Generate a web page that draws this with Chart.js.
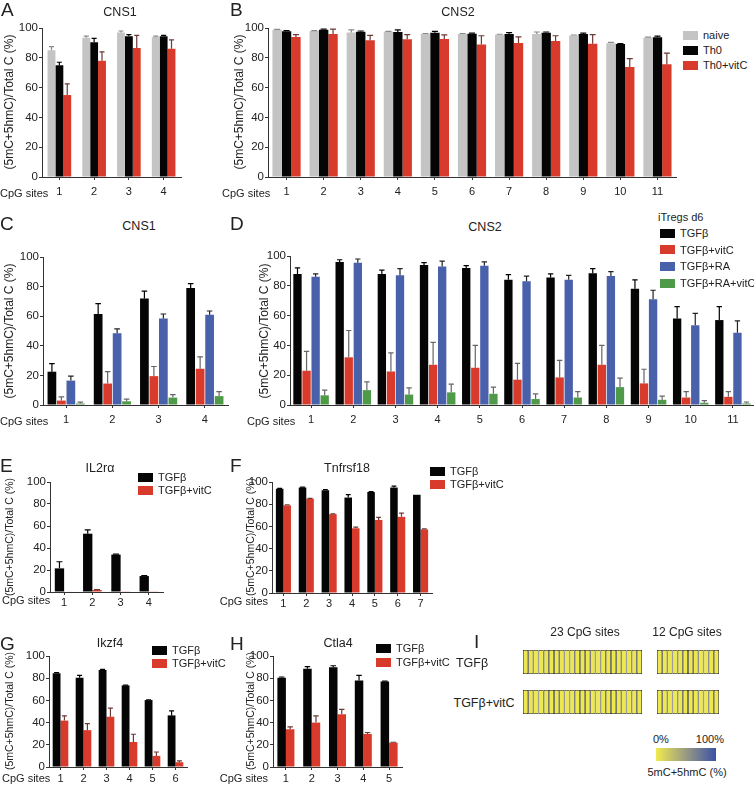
<!DOCTYPE html>
<html>
<head>
<meta charset="utf-8">
<script src="https://cdn.jsdelivr.net/npm/chart.js@4.4.1/dist/chart.umd.min.js"></script>
<style>
  body { margin: 0; background: #fff; }
  #fig { position: relative; width: 754px; height: 785px; overflow: hidden;
         font-family: "Liberation Sans", Arial, sans-serif; color: #222; }
  #fig canvas { position: absolute; }
  .t { position: absolute; white-space: nowrap; line-height: 1; }
  .sw { position: absolute; }
</style>
</head>
<body>
<div id="fig"></div>
<script>
// ---- data ----
const sites4 = ["1", "2", "3", "4"];
const sites5 = ["1", "2", "3", "4", "5"];
const sites6 = ["1", "2", "3", "4", "5", "6"];
const sites7 = ["1", "2", "3", "4", "5", "6", "7"];
const sites11 = ["1", "2", "3", "4", "5", "6", "7", "8", "9", "10", "11"];

// A  CNS1 (naive / Th0 / Th0+vitC)
const aNaive = [85, 93.5, 97, 94];       const aNaiveErr = [2.5, 1, 1, 0.5];
const aTh0 = [75, 90.5, 94.5, 94.5];     const aTh0Err = [2, 2.5, 1, 0.5];
const aVitc = [55, 78, 86.5, 86];        const aVitcErr = [7.5, 6, 8.5, 6];

// B  CNS2
const bNaive = [98.8, 98, 97, 97.5, 96, 96, 95.5, 96, 95, 89.8, 93.4];
const bNaiveErr = [0.3, 0.3, 1.8, 0.3, 0.3, 0.3, 0.3, 1.3, 0.3, 0.5, 0.5];
const bTh0 = [97.8, 98.8, 97.5, 97.3, 96.8, 96.2, 96, 96.8, 96, 89.2, 93.8];
const bTh0Err = [0.5, 0.5, 0.5, 1.5, 0.9, 0.4, 0.9, 0.5, 0.5, 0.3, 0.8];
const bVitc = [94, 96, 91.7, 92.4, 92.7, 89, 90, 91.3, 89.5, 73.8, 75.7];
const bVitcErr = [1.5, 3.2, 3.3, 3.2, 2.7, 5.8, 4, 3.5, 6, 5.6, 7.4];

// C  CNS1 iTregs
const cTgfb = [22.5, 61.5, 72, 79];      const cTgfbErr = [5.5, 7, 5, 3];
const cVitc = [3, 14.5, 19.5, 24.5];     const cVitcErr = [2.5, 8, 6.5, 8];
const cRa = [16.5, 48.5, 58.5, 61];      const cRaErr = [3, 3, 3, 2.5];
const cRaVitc = [1, 2.5, 5, 6];          const cRaVitcErr = [1, 1.5, 2, 3];

// D  CNS2 iTregs
const dTgfb = [88, 96, 88, 94, 92, 84, 85.5, 88.5, 78, 58, 57];
const dTgfbErr = [4, 1.5, 2.5, 1.5, 1.5, 3.5, 2.5, 3, 6, 8, 9];
const dVitc = [23, 32, 22.5, 27, 25, 17, 18.5, 27, 14.5, 5, 5.5];
const dVitcErr = [13, 18, 12.5, 15, 15, 11, 11.5, 13, 9.5, 4, 3.5];
const dRa = [86, 95.5, 87, 93, 93.5, 83, 84, 86.5, 71, 53.5, 48.5];
const dRaErr = [2, 2.5, 4.5, 3.5, 2.5, 3.5, 3, 3, 6, 8, 8];
const dRaVitc = [6.5, 10, 7, 8.5, 7.5, 4, 5, 12, 3.5, 1.5, 1];
const dRaVitcErr = [3.5, 5.5, 4.5, 5.5, 4.5, 3.5, 4, 6, 2.5, 1.5, 1];

// E  IL2ra
const eTgfb = [21.5, 53, 34, 14.5];      const eTgfbErr = [6, 3.5, 0.5, 0.5];
const eVitc = [0.4, 1.8, 0.6, 0.3];      const eVitcErr = [0, 0.3, 0, 0];

// F  Tnfrsf18
const fTgfb = [94, 95, 92.5, 86, 91, 95, 88.5];
const fTgfbErr = [0.3, 0.3, 0.6, 2.7, 0.3, 1.3, 0];
const fVitc = [79, 85, 71, 58.3, 65.8, 68.6, 57.3];
const fVitcErr = [0.5, 0.3, 0.3, 1, 2.3, 3.4, 0.4];

// G  Ikzf4
const gTgfb = [84.5, 80.5, 87.5, 73.5, 60.3, 46.5];
const gTgfbErr = [0.5, 2, 0.5, 0.3, 0.3, 4];
const gVitc = [41.8, 33.2, 45.3, 22.5, 10, 4.3];
const gVitcErr = [4.2, 5.8, 7.7, 7, 3.5, 1.2];

// H  Ctla4
const hTgfb = [80.5, 88.5, 89.8, 78, 77];  const hTgfbErr = [0.6, 2, 1.4, 4.5, 0.3];
const hVitc = [34, 40, 47.5, 29.8, 22];    const hVitcErr = [2.2, 6, 4.5, 1.3, 0.3];

// I  heatmap, 5mC+5hmC (%) per CpG
const iRows = ["TGFβ", "TGFβ+vitC"];
const i23Tgfb = [2, 3, 1, 2, 4, 2, 1, 3, 2, 2, 1, 3, 2, 4, 2, 1, 2, 3, 2, 1, 2, 3, 2];
const i23Vitc = [1, 2, 1, 1, 2, 1, 2, 1, 1, 2, 1, 1, 2, 1, 1, 2, 1, 1, 1, 2, 1, 1, 2];
const i12Tgfb = [2, 1, 3, 2, 2, 1, 2, 3, 1, 2, 2, 1];
const i12Vitc = [1, 1, 2, 1, 1, 2, 1, 1, 2, 1, 1, 1];

const yTicks = [0, 20, 40, 60, 80, 100];

// colours
const GRAY = "#c4c4c4", BLACK = "#050505", RED = "#d83b2b", BLUE = "#4960ab", GREEN = "#4e9a48";

const fig = document.getElementById("fig");
const FONT = '"Liberation Sans", Arial, sans-serif';

function txt(s, x, y, size, align = "left", rot = 0) {
  const d = document.createElement("div");
  d.className = "t";
  d.textContent = s;
  d.style.fontSize = size + "px";
  d.style.left = x + "px";
  d.style.top = y + "px";
  const tx = align === "center" ? "-50%" : align === "right" ? "-100%" : "0";
  d.style.transform = `translate(${tx},-50%)` + (rot ? ` rotate(${rot}deg)` : "");
  fig.appendChild(d);
}

function legend(series, x, y0, step, size) {
  series.forEach((s, i) => {
    const sw = document.createElement("div");
    sw.className = "sw";
    sw.style.left = x + "px";
    sw.style.top = (y0 + i * step - 4.5) + "px";
    sw.style.width = "15px";
    sw.style.height = "9px";
    sw.style.background = s.color;
    fig.appendChild(sw);
    txt(s.name, x + 20, y0 + i * step, size);
  });
}

// one-sided (upper) error bars
const errorBars = {
  id: "errorBars",
  afterDatasetsDraw(chart) {
    const ctx = chart.ctx, ys = chart.scales.y;
    chart.data.datasets.forEach((ds, i) => {
      if (!ds.errors) return;
      chart.getDatasetMeta(i).data.forEach((bar, j) => {
        const e = ds.errors[j];
        if (!e) return;
        const top = ys.getPixelForValue(ds.data[j] + e);
        const cap = bar.width * 0.32;
        ctx.save();
        ctx.strokeStyle = ds.errColor;
        ctx.lineWidth = 1.2;
        ctx.beginPath();
        ctx.moveTo(bar.x, bar.y);
        ctx.lineTo(bar.x, top);
        ctx.moveTo(bar.x - cap, top);
        ctx.lineTo(bar.x + cap, top);
        ctx.stroke();
        ctx.restore();
      });
    });
  }
};

function barPanel(p) {
  const padL = 34, padT = 10, padR = 6, padB = 26;
  const w = p.right - p.left + padL + padR, h = p.zero - p.top + padT + padB;
  const c = document.createElement("canvas");
  c.width = w; c.height = h;
  c.style.left = (p.left - padL) + "px";
  c.style.top = (p.top - padT) + "px";
  c.style.width = w + "px";
  c.style.height = h + "px";
  fig.appendChild(c);
  new Chart(c, {
    type: "bar",
    data: {
      labels: p.labels,
      datasets: p.series.map(s => ({
        label: s.name, data: s.values, errors: s.errors, errColor: s.errColor,
        backgroundColor: s.color, categoryPercentage: p.cat, barPercentage: p.bar || 1
      }))
    },
    options: {
      responsive: false, animation: false,
      layout: { padding: { top: padT, right: padR, left: 0, bottom: 0 } },
      plugins: { legend: { display: false }, tooltip: { enabled: false } },
      scales: {
        x: {
          grid: { offset: false, drawOnChartArea: false, tickLength: 3, color: "#333" },
          border: { color: "#333", width: 1 },
          ticks: { color: "#222", font: { family: FONT, size: 11 }, padding: p.xpad, maxRotation: 0, autoSkip: false },
          afterFit: s => { s.height = padB; }
        },
        y: {
          min: 0, max: 100,
          grid: { drawOnChartArea: false, tickLength: 3, color: "#333" },
          border: { color: "#333", width: 1 },
          ticks: { stepSize: 20, color: "#222", font: { family: FONT, size: 11.5 }, padding: 1 },
          afterBuildTicks: s => { s.ticks = yTicks.map(v => ({ value: v })); },
          afterFit: s => { s.width = padL; }
        }
      }
    },
    plugins: [errorBars]
  });
}

const YT = "(5mC+5hmC)/Total C (%)";

// ---- A ----
barPanel({ left: 42, right: 181, top: 28, zero: 177, labels: sites4, cat: 0.68, xpad: 5, series: [
  { name: "naive", values: aNaive, errors: aNaiveErr, color: GRAY, errColor: "#8a8a8a" },
  { name: "Th0", values: aTh0, errors: aTh0Err, color: BLACK, errColor: "#000" },
  { name: "Th0+vitC", values: aVitc, errors: aVitcErr, color: RED, errColor: "#6a3a34" }
]});
txt("A", 1, 9, 19);
txt("CNS1", 120, 12, 12.5, "center");
txt(YT, 9, 102, 12, "center", -90);
txt("CpG sites", 0, 193, 11);

// ---- B ----
const bSeries = [
  { name: "naive", values: bNaive, errors: bNaiveErr, color: GRAY, errColor: "#8a8a8a" },
  { name: "Th0", values: bTh0, errors: bTh0Err, color: BLACK, errColor: "#000" },
  { name: "Th0+vitC", values: bVitc, errors: bVitcErr, color: RED, errColor: "#6a3a34" }
];
barPanel({ left: 268, right: 676, top: 28, zero: 177, labels: sites11, cat: 0.76, xpad: 5, series: bSeries });
txt("B", 230, 9, 19);
txt("CNS2", 458, 12, 12.5, "center");
txt(YT, 239, 102, 12, "center", -90);
txt("CpG sites", 222, 193, 11);
legend(bSeries, 683, 35, 15, 11);

// ---- C ----
const cdNames = ["TGFβ", "TGFβ+vitC", "TGFβ+RA", "TGFβ+RA+vitC"];
barPanel({ left: 43, right: 228, top: 257, zero: 405, labels: sites4, cat: 0.82, bar: 0.92, xpad: 5, series: [
  { name: cdNames[0], values: cTgfb, errors: cTgfbErr, color: BLACK, errColor: "#000" },
  { name: cdNames[1], values: cVitc, errors: cVitcErr, color: RED, errColor: "#666" },
  { name: cdNames[2], values: cRa, errors: cRaErr, color: BLUE, errColor: "#222" },
  { name: cdNames[3], values: cRaVitc, errors: cRaVitcErr, color: GREEN, errColor: "#666" }
]});
txt("C", 0, 223, 19);
txt("CNS1", 139, 226, 12.5, "center");
txt(YT, 9, 331, 12, "center", -90);
txt("CpG sites", 0, 421, 11);

// ---- D ----
const dSeries = [
  { name: cdNames[0], values: dTgfb, errors: dTgfbErr, color: BLACK, errColor: "#000" },
  { name: cdNames[1], values: dVitc, errors: dVitcErr, color: RED, errColor: "#666" },
  { name: cdNames[2], values: dRa, errors: dRaErr, color: BLUE, errColor: "#222" },
  { name: cdNames[3], values: dRaVitc, errors: dRaVitcErr, color: GREEN, errColor: "#666" }
];
barPanel({ left: 290, right: 754, top: 256, zero: 405, labels: sites11, cat: 0.86, bar: 0.92, xpad: 5, series: dSeries });
txt("D", 230, 223, 19);
txt("CNS2", 485, 227, 12.5, "center");
txt(YT, 264, 331, 12, "center", -90);
txt("CpG sites", 247, 421, 11);
txt("iTregs d6", 658, 217, 11);
legend(dSeries, 660, 233, 16.7, 11);

// ---- E-H ----
const pairNames = ["TGFβ", "TGFβ+vitC"];
function pair(t, te, v, ve) {
  return [
    { name: pairNames[0], values: t, errors: te, color: BLACK, errColor: "#000" },
    { name: pairNames[1], values: v, errors: ve, color: RED, errColor: "#6a3a34" }
  ];
}
const eSeries = pair(eTgfb, eTgfbErr, eVitc, eVitcErr);
barPanel({ left: 50, right: 163, top: 482, zero: 592, labels: sites4, cat: 0.66, xpad: 1, series: eSeries });
txt("E", 0, 465, 19);
txt("IL2rα", 100, 468, 12.5, "center");
txt(YT, 9, 537, 10.5, "center", -90);
txt("CpG sites", 2, 600, 11);
legend(eSeries, 138, 477, 13, 11);

const fSeries = pair(fTgfb, fTgfbErr, fVitc, fVitcErr);
barPanel({ left: 272, right: 432, top: 482, zero: 593, labels: sites7, cat: 0.66, xpad: 1, series: fSeries });
txt("F", 230, 465, 19);
txt("Tnfrsf18", 347, 468, 12.5, "center");
txt(YT, 250, 537, 10.5, "center", -90);
txt("CpG sites", 268, 601, 11, "right");
legend(fSeries, 430, 471, 13, 11);

const gSeries = pair(gTgfb, gTgfbErr, gVitc, gVitcErr);
barPanel({ left: 49, right: 187, top: 656, zero: 767, labels: sites6, cat: 0.68, xpad: 2, series: gSeries });
txt("G", 0, 643, 19);
txt("Ikzf4", 110, 643, 12.5, "center");
txt(YT, 9, 711, 10.5, "center", -90);
txt("CpG sites", 2, 778, 11);
legend(gSeries, 152, 650, 13, 11);

const hSeries = pair(hTgfb, hTgfbErr, hVitc, hVitcErr);
barPanel({ left: 273, right: 402, top: 656, zero: 767, labels: sites5, cat: 0.66, xpad: 2, series: hSeries });
txt("H", 230, 643, 19);
txt("Ctla4", 338, 643, 12.5, "center");
txt(YT, 250, 711, 10.5, "center", -90);
txt("CpG sites", 268, 778, 11, "right");
legend(hSeries, 376, 648, 14, 11);

// ---- I heatmap ----
const heatStops = [[0, [240, 234, 78]], [50, [152, 154, 130]], [100, [58, 82, 166]]];
function heat(v) {
  for (let k = 1; k < heatStops.length; k++) {
    const [v1, c1] = heatStops[k], [v0, c0] = heatStops[k - 1];
    if (v <= v1) {
      const f = (v - v0) / (v1 - v0);
      return `rgb(${c0.map((c, n) => Math.round(c + (c1[n] - c) * f)).join(",")})`;
    }
  }
  return "rgb(58,82,166)";
}

function heatBlock(rowA, rowB, left, width) {
  const c = document.createElement("canvas");
  c.width = width; c.height = 80;
  c.style.left = left + "px"; c.style.top = "642px";
  c.style.width = width + "px"; c.style.height = "80px";
  fig.appendChild(c);
  new Chart(c, {
    type: "bar",
    data: {
      labels: iRows,
      datasets: rowA.map((v, j) => ({
        data: [1, 1],
        backgroundColor: [heat(rowA[j]), heat(rowB[j])],
        borderColor: "#222", borderWidth: 0.75, borderSkipped: false,
        categoryPercentage: 0.6, barPercentage: 1
      }))
    },
    options: {
      indexAxis: "y", responsive: false, animation: false,
      plugins: { legend: { display: false }, tooltip: { enabled: false } },
      scales: {
        x: { stacked: true, min: 0, max: rowA.length, display: false },
        y: { stacked: true, display: false }
      }
    }
  });
}
heatBlock(i23Tgfb, i23Vitc, 523, 119);
heatBlock(i12Tgfb, i12Vitc, 657, 62);

txt("I", 474, 641, 19);
txt("23 CpG sites", 585, 632, 12, "center");
txt("12 CpG sites", 687, 632, 12, "center");
txt(iRows[0], 472, 663, 12.5, "center");
txt(iRows[1], 484, 703, 12.5, "center");

const bar = document.createElement("div");
bar.className = "sw";
bar.style.left = "656px"; bar.style.top = "748px";
bar.style.width = "60px"; bar.style.height = "13px";
bar.style.background = "linear-gradient(to right, rgb(240,234,78), rgb(152,154,130), rgb(58,82,166))";
fig.appendChild(bar);
txt("0%", 653, 739, 11);
txt("100%", 724, 739, 11, "right");
txt("5mC+5hmC (%)", 687, 772, 11, "center");
</script>
</body>
</html>
